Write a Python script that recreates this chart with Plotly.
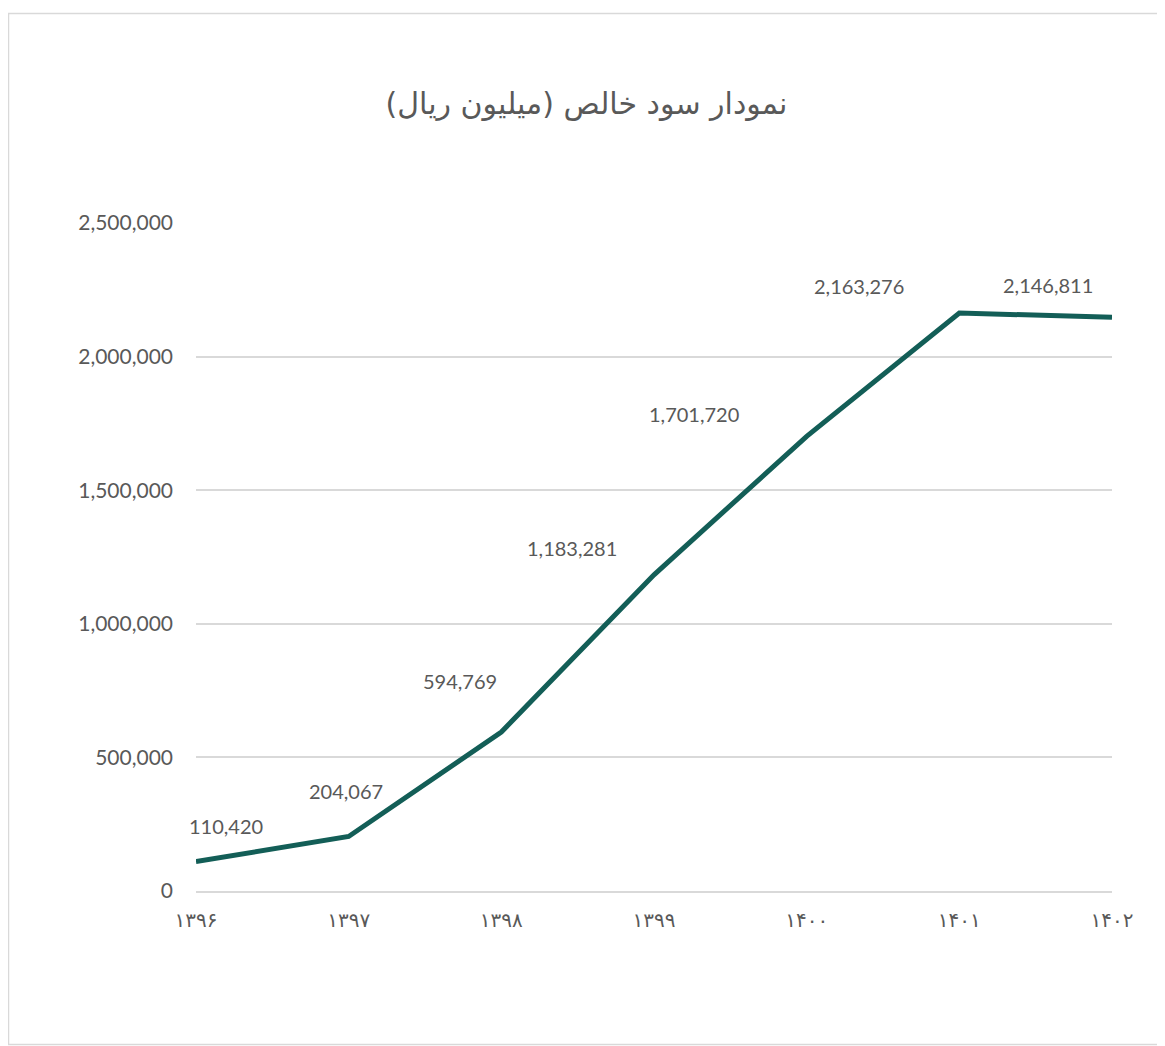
import plotly.graph_objects as go

years = ["۱۳۹۶", "۱۳۹۷", "۱۳۹۸", "۱۳۹۹", "۱۴۰۰", "۱۴۰۱", "۱۴۰۲"]
net_profit = [110420, 204067, 594769, 1183281, 1701720, 2163276, 2146811]
y_ticks = [0, 500000, 1000000, 1500000, 2000000, 2500000]
title_text = "نمودار سود خالص (میلیون ریال)"

# label offsets (pixels) relative to each point
label_dx = [30, -3, -41, -82, -113, -100, -64]
label_dy = [36, 45, 51, 27, 22, 27, 32]

LINE_COLOR = "#135e57"
TEXT_COLOR = "#595959"
NUM_FONT = "Lato, Open Sans, sans-serif"

W, H = 1157, 1038  # page body has an 8px margin

fig = go.Figure()
fig.add_trace(go.Scatter(
    x=years, y=net_profit, mode="lines",
    line=dict(color=LINE_COLOR, width=5),
    hoverinfo="skip", showlegend=False,
))

for x, v, dx, dy in zip(years, net_profit, label_dx, label_dy):
    fig.add_annotation(
        x=x, y=v, text=f"{v:,}", showarrow=False,
        xshift=dx, yshift=dy,
        font=dict(family=NUM_FONT, size=20, color=TEXT_COLOR),
    )

fig.update_layout(
    width=W, height=H,
    margin=dict(l=188, r=53, t=215, b=155),
    paper_bgcolor="white", plot_bgcolor="white",
    title=dict(
        text=title_text, x=0.5, xanchor="center",
        y=1 - 95 / H, yanchor="middle",
        font=dict(family="DejaVu Sans, sans-serif", size=30, color=TEXT_COLOR),
    ),
    xaxis=dict(
        type="category", range=[0, len(years) - 1],
        showgrid=False, showline=True, linecolor="#d9d9d9", linewidth=1.5,
        ticks="", tickfont=dict(family="DejaVu Sans, sans-serif", size=20, color=TEXT_COLOR),
        ticklabelstandoff=10, zeroline=False,
    ),
    yaxis=dict(
        range=[0, 2500000], tickvals=y_ticks,
        ticktext=[f"{t:,}" for t in y_ticks],
        showgrid=True, gridcolor="#d9d9d9", gridwidth=1.5,
        zeroline=False, showline=False, ticks="",
        tickfont=dict(family=NUM_FONT, size=21, color=TEXT_COLOR),
        ticklabelstandoff=22,
    ),
)

# outer chart border (paper coords: plot area spans x 196..1112, y 223..891 on screen)
fig.add_shape(
    type="rect", xref="paper", yref="paper",
    x0=(8.5 - 196) / 916, x1=(1200 - 196) / 916,
    y0=(891 - 1044.5) / 668, y1=(891 - 13.5) / 668,
    line=dict(color="#d9d9d9", width=1.5), fillcolor="rgba(0,0,0,0)",
    layer="below",
)

fig.write_html("out.html")
